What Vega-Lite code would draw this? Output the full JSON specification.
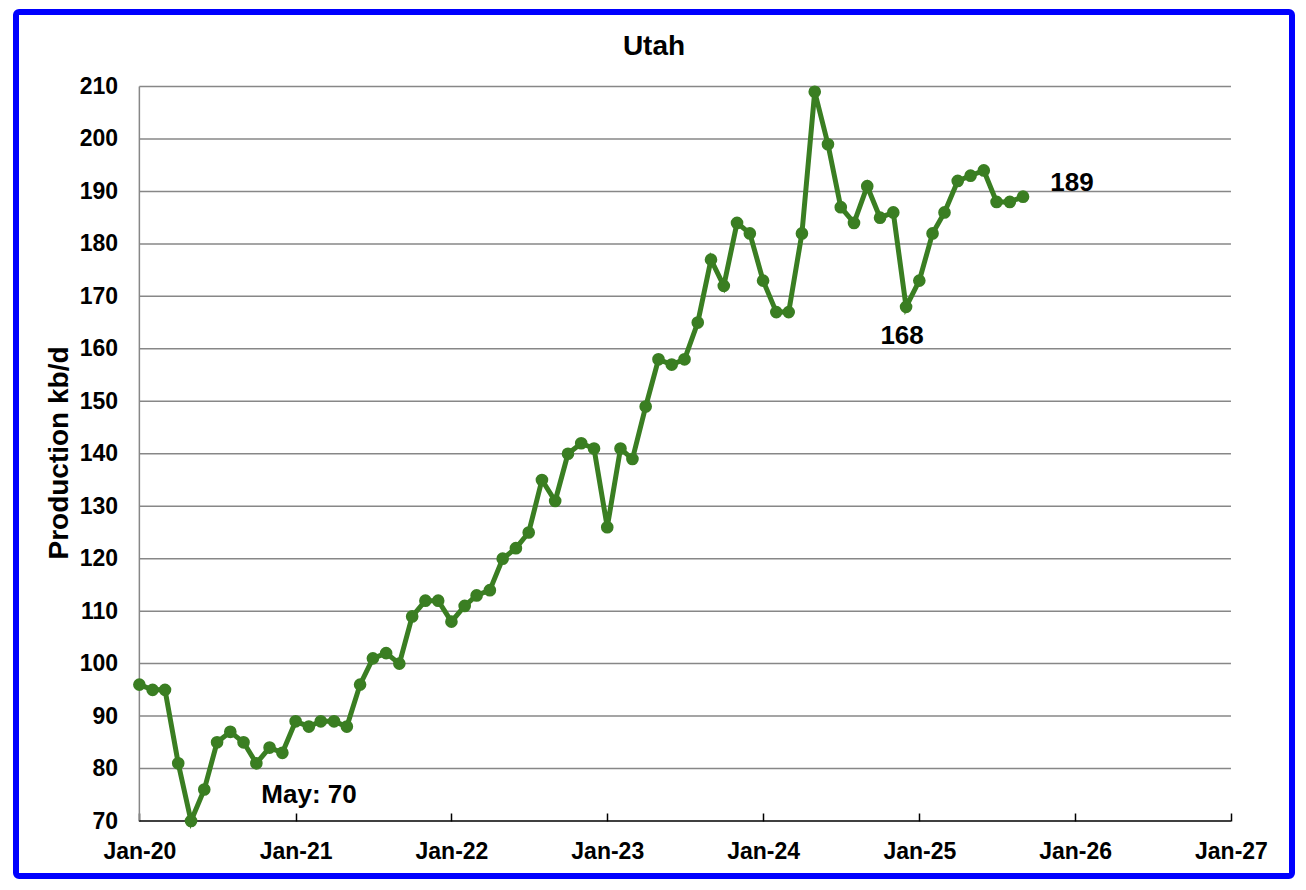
{
  "$schema": "https://vega.github.io/schema/vega-lite/v6.json",
  "autosize": "none",
  "width": 1276,
  "height": 864,
  "padding": {"left": 16, "top": 12, "right": 14, "bottom": 14},
  "background": "white",
  "config": {
    "font": "Liberation Sans",
    "view": {"stroke": "#0000ff", "strokeWidth": 6, "fill": "white", "cornerRadius": 3}
  },
  "title": {
    "text": "Utah",
    "font": "Liberation Sans",
    "fontSize": 28,
    "fontWeight": "bold",
    "color": "black",
    "anchor": "middle",
    "frame": "group",
    "baseline": "alphabetic",
    "offset": -71
  },
  "datasets": {
    "utah": [
      {"date": "2020-01-01", "kbd": 96}, {"date": "2020-02-01", "kbd": 95}, {"date": "2020-03-01", "kbd": 95},
      {"date": "2020-04-01", "kbd": 81}, {"date": "2020-05-01", "kbd": 70, "note": "May: 70"}, {"date": "2020-06-01", "kbd": 76},
      {"date": "2020-07-01", "kbd": 85}, {"date": "2020-08-01", "kbd": 87}, {"date": "2020-09-01", "kbd": 85},
      {"date": "2020-10-01", "kbd": 81}, {"date": "2020-11-01", "kbd": 84}, {"date": "2020-12-01", "kbd": 83},
      {"date": "2021-01-01", "kbd": 89}, {"date": "2021-02-01", "kbd": 88}, {"date": "2021-03-01", "kbd": 89},
      {"date": "2021-04-01", "kbd": 89}, {"date": "2021-05-01", "kbd": 88}, {"date": "2021-06-01", "kbd": 96},
      {"date": "2021-07-01", "kbd": 101}, {"date": "2021-08-01", "kbd": 102}, {"date": "2021-09-01", "kbd": 100},
      {"date": "2021-10-01", "kbd": 109}, {"date": "2021-11-01", "kbd": 112}, {"date": "2021-12-01", "kbd": 112},
      {"date": "2022-01-01", "kbd": 108}, {"date": "2022-02-01", "kbd": 111}, {"date": "2022-03-01", "kbd": 113},
      {"date": "2022-04-01", "kbd": 114}, {"date": "2022-05-01", "kbd": 120}, {"date": "2022-06-01", "kbd": 122},
      {"date": "2022-07-01", "kbd": 125}, {"date": "2022-08-01", "kbd": 135}, {"date": "2022-09-01", "kbd": 131},
      {"date": "2022-10-01", "kbd": 140}, {"date": "2022-11-01", "kbd": 142}, {"date": "2022-12-01", "kbd": 141},
      {"date": "2023-01-01", "kbd": 126}, {"date": "2023-02-01", "kbd": 141}, {"date": "2023-03-01", "kbd": 139},
      {"date": "2023-04-01", "kbd": 149}, {"date": "2023-05-01", "kbd": 158}, {"date": "2023-06-01", "kbd": 157},
      {"date": "2023-07-01", "kbd": 158}, {"date": "2023-08-01", "kbd": 165}, {"date": "2023-09-01", "kbd": 177},
      {"date": "2023-10-01", "kbd": 172}, {"date": "2023-11-01", "kbd": 184}, {"date": "2023-12-01", "kbd": 182},
      {"date": "2024-01-01", "kbd": 173}, {"date": "2024-02-01", "kbd": 167}, {"date": "2024-03-01", "kbd": 167},
      {"date": "2024-04-01", "kbd": 182}, {"date": "2024-05-01", "kbd": 209}, {"date": "2024-06-01", "kbd": 199},
      {"date": "2024-07-01", "kbd": 187}, {"date": "2024-08-01", "kbd": 184}, {"date": "2024-09-01", "kbd": 191},
      {"date": "2024-10-01", "kbd": 185}, {"date": "2024-11-01", "kbd": 186}, {"date": "2024-12-01", "kbd": 168, "note": "168"},
      {"date": "2025-01-01", "kbd": 173}, {"date": "2025-02-01", "kbd": 182}, {"date": "2025-03-01", "kbd": 186},
      {"date": "2025-04-01", "kbd": 192}, {"date": "2025-05-01", "kbd": 193}, {"date": "2025-06-01", "kbd": 194},
      {"date": "2025-07-01", "kbd": 188}, {"date": "2025-08-01", "kbd": 188}, {"date": "2025-09-01", "kbd": 189, "note": "189"}
    ],
    "grid": [
      {"level": 80}, {"level": 90}, {"level": 100}, {"level": 110}, {"level": 120}, {"level": 130}, {"level": 140},
      {"level": 150}, {"level": 160}, {"level": 170}, {"level": 180}, {"level": 190}, {"level": 200}, {"level": 210}
    ]
  },
  "layer": [
    {
      "data": {"name": "grid"},
      "mark": {"type": "rule", "color": "#878787", "strokeWidth": 1.5},
      "encoding": {
        "x": {"datum": {"year": 2020, "month": 1, "date": 1, "utc": true}, "type": "temporal"},
        "x2": {"datum": {"year": 2027, "month": 1, "date": 1, "utc": true}},
        "y": {"field": "level", "type": "quantitative"}
      }
    },
    {
      "data": {"values": [{}]},
      "mark": {"type": "rule", "color": "#878787", "strokeWidth": 1.5},
      "encoding": {
        "x": {"datum": {"year": 2020, "month": 1, "date": 1, "utc": true}, "type": "temporal"},
        "y": {"datum": 70, "type": "quantitative"},
        "y2": {"datum": 210}
      }
    },
    {
      "data": {"values": [{}]},
      "mark": {"type": "rule", "color": "black", "strokeWidth": 1.5},
      "encoding": {
        "x": {"datum": {"year": 2020, "month": 1, "date": 1, "utc": true}, "type": "temporal"},
        "x2": {"datum": {"year": 2027, "month": 1, "date": 1, "utc": true}},
        "y": {"datum": 70, "type": "quantitative"}
      }
    },
    {
      "data": {"name": "utah"},
      "mark": {"type": "line", "color": "#3a7e22", "strokeWidth": 5, "point": {"filled": true, "size": 160, "color": "#3a7e22", "opacity": 1}},
      "encoding": {
        "x": {
          "field": "date", "type": "temporal",
          "scale": {"type": "utc", "domain": [{"year": 2019, "month": 3, "date": 18, "utc": true}, {"year": 2027, "month": 5, "date": 24, "utc": true}]},
          "axis": {
            "title": null,
            "format": "%b-%y",
            "values": [
              {"year": 2020, "month": 1, "date": 1, "utc": true}, {"year": 2021, "month": 1, "date": 1, "utc": true},
              {"year": 2022, "month": 1, "date": 1, "utc": true}, {"year": 2023, "month": 1, "date": 1, "utc": true},
              {"year": 2024, "month": 1, "date": 1, "utc": true}, {"year": 2025, "month": 1, "date": 1, "utc": true},
              {"year": 2026, "month": 1, "date": 1, "utc": true}, {"year": 2027, "month": 1, "date": 1, "utc": true}
            ],
            "offset": -55,
            "domain": false,
            "grid": false,
            "ticks": true,
            "tickSize": -8,
            "tickColor": "black",
            "tickWidth": 1.5,
            "labelPadding": 27,
            "labelFont": "Liberation Sans",
            "labelFontSize": 23,
            "labelFontWeight": "bold",
            "labelColor": "black",
            "labelFlush": false,
            "labelOverlap": false
          }
        },
        "y": {
          "field": "kbd", "type": "quantitative",
          "scale": {"domain": [59.52, 224.2], "nice": false, "zero": false},
          "axis": {
            "title": "Production kb/d",
            "values": [70, 80, 90, 100, 110, 120, 130, 140, 150, 160, 170, 180, 190, 200, 210],
            "offset": -123.5,
            "domain": false,
            "grid": false,
            "ticks": false,
            "labelPadding": 22,
            "labelFont": "Liberation Sans",
            "labelFontSize": 23,
            "labelFontWeight": "bold",
            "labelColor": "black",
            "labelOverlap": false,
            "titleFont": "Liberation Sans",
            "titleFontSize": 28,
            "titleFontWeight": "bold",
            "titleColor": "black",
            "titleAngle": -90,
            "titleAlign": "center",
            "titleBaseline": "alphabetic",
            "titleX": -72.5,
            "titleY": 440.5
          }
        }
      }
    },
    {
      "data": {"name": "utah"},
      "transform": [{"filter": "datum.note == 'May: 70'"}],
      "mark": {"type": "text", "font": "Liberation Sans", "fontSize": 26, "fontWeight": "bold", "color": "black", "align": "center", "baseline": "alphabetic", "dx": 118, "dy": -18},
      "encoding": {
        "x": {"field": "date", "type": "temporal"},
        "y": {"field": "kbd", "type": "quantitative"},
        "text": {"field": "note"}
      }
    },
    {
      "data": {"name": "utah"},
      "transform": [{"filter": "datum.note == '168'"}],
      "mark": {"type": "text", "font": "Liberation Sans", "fontSize": 26, "fontWeight": "bold", "color": "black", "align": "center", "baseline": "alphabetic", "dx": -4, "dy": 37},
      "encoding": {
        "x": {"field": "date", "type": "temporal"},
        "y": {"field": "kbd", "type": "quantitative"},
        "text": {"field": "note"}
      }
    },
    {
      "data": {"name": "utah"},
      "transform": [{"filter": "datum.note == '189'"}],
      "mark": {"type": "text", "font": "Liberation Sans", "fontSize": 26, "fontWeight": "bold", "color": "black", "align": "center", "baseline": "alphabetic", "dx": 49, "dy": -6},
      "encoding": {
        "x": {"field": "date", "type": "temporal"},
        "y": {"field": "kbd", "type": "quantitative"},
        "text": {"field": "note"}
      }
    }
  ]
}
